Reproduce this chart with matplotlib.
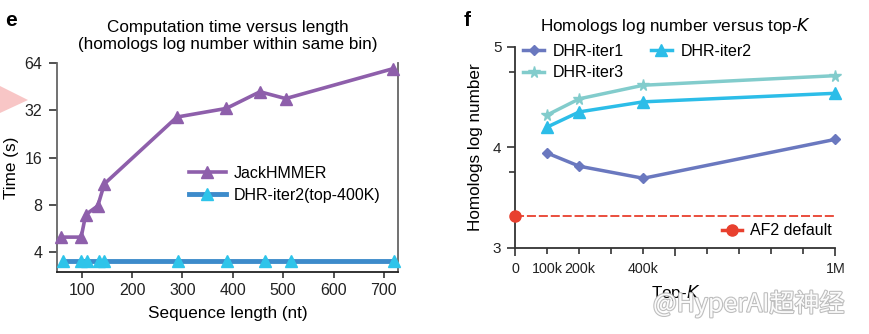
import matplotlib
matplotlib.use("Agg")
import matplotlib.pyplot as plt
import matplotlib.patheffects as pe
from matplotlib.patches import Polygon
from matplotlib.ticker import FixedLocator

plt.rcParams['font.family'] = ['Liberation Sans', 'DejaVu Sans']

# ---- Panel e data ----
jack_len = [59, 99, 108, 132, 145, 289, 387, 454, 505, 719]
jack_time = [5.0, 5.0, 6.95, 7.9, 10.9, 29.0, 32.9, 42.0, 38.0, 59.0]
dhr_len = [62, 99, 110, 134, 145, 291, 388, 464, 515, 720]
dhr_time = [3.5, 3.5, 3.5, 3.5, 3.5, 3.5, 3.5, 3.5, 3.5, 3.5]
e_yticks = [4, 8, 16, 32, 64]
e_xticks = [100, 200, 300, 400, 500, 600, 700]

# ---- Panel f data ----
topk = [100000, 200000, 400000, 1000000]
iter1 = [3.94, 3.81, 3.69, 4.077]
iter2 = [4.20, 4.35, 4.45, 4.535]
iter3 = [4.32, 4.48, 4.615, 4.71]
af2_default = 3.32
f_label_ticks = [0, 100000, 200000, 400000, 1000000]
f_label_text = ['0', '100k', '200k', '400k', '1M']

W, H = 870, 334
fig = plt.figure(figsize=(W / 100, H / 100), dpi=100)

def box(x0, y0, x1, y1):
    return [x0 / W, 1 - y1 / H, (x1 - x0) / W, (y1 - y0) / H]

# ---------------- Panel e ----------------
ax = fig.add_axes(box(57, 63, 398, 272))
ax.set_yscale('log', base=2)
ax.plot(jack_len, jack_time, color='#8e5fab', lw=2.6, marker='^', ms=9,
        label='JackHMMER', clip_on=False, zorder=3)
ax.plot(dhr_len, dhr_time, color='#3d8bcb', lw=3.5, marker='^', ms=8,
        mfc='#2ec4ea', mec='#2ec4ea', label='DHR-iter2(top-400K)', clip_on=False, zorder=3)
ax.set_xlim(51, 728)
ax.set_ylim(3.0, 64)
ax.yaxis.set_major_locator(FixedLocator(e_yticks))
ax.yaxis.set_minor_locator(FixedLocator([]))
ax.set_yticklabels([str(v) for v in e_yticks])
ax.set_xticks(e_xticks)
ax.spines['top'].set_visible(False)
for s in ['left', 'right']:
    ax.spines[s].set_color('#666666')
    ax.spines[s].set_linewidth(1.3)
ax.spines['bottom'].set_color('#222222')
ax.spines['bottom'].set_linewidth(1.3)
ax.tick_params(axis='x', direction='out', length=4, width=1.1, labelsize=11.5,
               colors='#222222', pad=4)
ax.tick_params(axis='y', direction='out', length=5.5, width=1.1, labelsize=11.5,
               colors='#222222', pad=5)
ax.set_xlabel('Sequence length (nt)', fontsize=12.3, labelpad=6)
ax.set_ylabel('Time (s)', fontsize=12.3, labelpad=4)
ax.set_title('Computation time versus length\n(homologs log number within same bin)',
             fontsize=12.3, linespacing=1.15, pad=10)
ax.legend(loc='center left', bbox_to_anchor=(0.345, 0.42), frameon=False,
          fontsize=11.5, handlelength=2.3, handletextpad=0.5, labelspacing=0.45)

# ---------------- Panel f ----------------
bx = fig.add_axes(box(515.3, 46.5, 835.3, 247.7))
l1, = bx.plot(topk, iter1, color='#6a78bf', lw=2.5, marker='D', ms=5.5,
              label='DHR-iter1', clip_on=False, zorder=3)
l2, = bx.plot(topk, iter2, color='#2cbde8', lw=2.5, marker='^', ms=8,
              label='DHR-iter2', clip_on=False, zorder=3)
l3, = bx.plot(topk, iter3, color='#82cccc', lw=2.5, marker='*', ms=8.5,
              label='DHR-iter3', clip_on=False, zorder=3)
bx.plot([0, 1000000], [af2_default, af2_default], color='#e8402e', lw=1.3,
        ls=(0, (5, 1.6)), zorder=2, clip_on=False)
l4, = bx.plot([0], [af2_default], color='#e8402e', lw=2.5, marker='o', ms=8,
              ls='-', label='AF2 default', clip_on=False, zorder=4)
bx.set_xlim(0, 1000000)
bx.set_ylim(3, 5)
bx.set_yticks([3, 4, 5])
bx.set_yticks([3.75, 4.75], minor=True)
bx.set_xticks([0, 500000, 1000000])
bx.set_xticklabels(['0', '', '1M'])
minor_pos = [100000 * i for i in range(1, 10) if i != 5]
minor_lab = []
for p in minor_pos:
    if p in f_label_ticks:
        minor_lab.append(f_label_text[f_label_ticks.index(p)])
    else:
        minor_lab.append('')
bx.set_xticks(minor_pos, minor=True)
bx.set_xticklabels(minor_lab, minor=True)
for s in ['top', 'right']:
    bx.spines[s].set_visible(False)
for s in ['left', 'bottom']:
    bx.spines[s].set_color('#333333')
    bx.spines[s].set_linewidth(1.3)
bx.tick_params(axis='both', which='major', direction='out', length=6, width=1.1,
               labelsize=11, colors='#222222', pad=4)
bx.tick_params(axis='both', which='minor', direction='out', length=4, width=1.1,
               labelsize=10.3, colors='#222222', pad=6)
bx.tick_params(axis='x', which='major', labelsize=10.3, pad=4)
bx.set_xlabel('Top-$\\mathit{K}$', fontsize=12.3, labelpad=5)
bx.set_ylabel('Homologs log number', fontsize=12.3, labelpad=7)
bx.set_title('Homologs log number versus top-$\\mathit{K}$', fontsize=12.3, pad=11)
leg1 = bx.legend(handles=[l1, l3, l2], loc='upper left', bbox_to_anchor=(-0.02, 1.085),
                 ncol=2, frameon=False, fontsize=11.5, handlelength=1.3,
                 handletextpad=0.55, columnspacing=1.7, labelspacing=0.4)
bx.add_artist(leg1)
bx.legend(handles=[l4], loc='lower right', bbox_to_anchor=(1.035, -0.025), frameon=False,
          fontsize=11.5, handlelength=1.3, handletextpad=0.5)

# panel labels
fig.text(5 / W, 1 - 26 / H, 'e', fontsize=15, fontweight='bold')
fig.text(464 / W, 1 - 26 / H, 'f', fontsize=15, fontweight='bold')

# decorative pink triangle at left edge
fig.patches.append(Polygon([[0, 1 - 86 / H], [28 / W, 1 - 100 / H], [0, 1 - 113 / H]],
                           closed=True, transform=fig.transFigure, facecolor='#f8c6c6',
                           edgecolor='none'))

# watermark
fig.text(653 / W, 1 - 304 / H, '@HyperAI超神经', fontsize=18,
         family=['Noto Sans CJK SC', 'DejaVu Sans'], color='white', va='center',
         path_effects=[pe.withStroke(linewidth=1.6, foreground='#bbbbbb')], alpha=0.95)

fig.savefig('out.png', dpi=100)
